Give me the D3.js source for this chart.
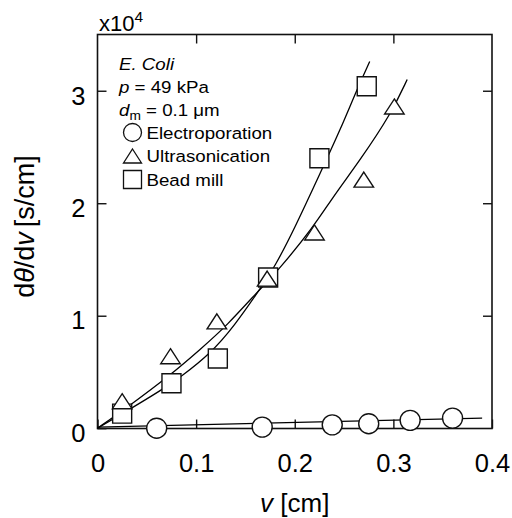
<!DOCTYPE html>
<html>
<head>
<meta charset="utf-8">
<script src="https://cdn.jsdelivr.net/npm/d3@7"></script>
<style>
  html, body { margin: 0; padding: 0; background: #fff; }
  svg { display: block; font-family: "Liberation Sans", Arial, sans-serif; }
</style>
</head>
<body>
<svg id="chart" width="512" height="518"></svg>
<script>
// ---- data ----
const seriesNames = ["Electroporation", "Ultrasonication", "Bead mill"];

const electroV = [0.060, 0.167, 0.238, 0.275, 0.317, 0.360];
const electroY = [0.00, 0.01, 0.03, 0.04, 0.07, 0.09];

const ultraV = [0.025, 0.074, 0.121, 0.172, 0.220, 0.270, 0.301];
const ultraY = [0.24, 0.64, 0.95, 1.33, 1.74, 2.21, 2.86];

const beadV = [0.025, 0.075, 0.122, 0.173, 0.225, 0.273];
const beadY = [0.13, 0.40, 0.62, 1.34, 2.40, 3.04];

// fitted lines
const electroFitV = [0, 0.39];
const electroFitY = [0.01, 0.09];
const ultraFitV = [0, 0.031, 0.075, 0.104, 0.131, 0.165, 0.183, 0.219, 0.239, 0.266, 0.298, 0.314];
const ultraFitY = [0, 0.19, 0.48, 0.70, 0.91, 1.24, 1.40, 1.79, 2.06, 2.38, 2.80, 3.10];
const beadFitV = [0, 0.031, 0.065, 0.085, 0.114, 0.138, 0.165, 0.180, 0.199, 0.227, 0.246, 0.263, 0.276];
const beadFitY = [0, 0.16, 0.34, 0.46, 0.66, 0.90, 1.24, 1.44, 1.76, 2.29, 2.65, 3.01, 3.26];

const xTicks = [0, 0.1, 0.2, 0.3, 0.4];
const yTicks = [0, 1, 2, 3];

// ---- layout ----
const svg = d3.select("#chart");
const pLeft = 97.5, pRight = 492, pTop = 34.5, pBottom = 428.5;
const x = d3.scaleLinear().domain([0, 0.4]).range([pLeft, pRight]);
const y = d3.scaleLinear().domain([0, 3.5]).range([428.2, 34.5]);
const tickLen = 9;

// axes
const gB = svg.append("g").attr("transform", `translate(0,${pBottom})`)
  .call(d3.axisBottom(x).tickValues(xTicks).tickSizeInner(-tickLen).tickSizeOuter(0).tickPadding(25)
    .tickFormat(d => d === 0 ? "0" : d3.format(".1f")(d)));
const gL = svg.append("g").attr("transform", `translate(${pLeft},0)`)
  .call(d3.axisLeft(y).tickValues(yTicks).tickSizeInner(-tickLen).tickSizeOuter(0).tickPadding(12)
    .tickFormat(d3.format("d")));
const gT = svg.append("g").attr("transform", `translate(0,${pTop})`)
  .call(d3.axisTop(x).tickValues(xTicks.slice(1, -1)).tickSizeInner(-tickLen).tickSizeOuter(0).tickFormat(""));
const gR = svg.append("g").attr("transform", `translate(${pRight},0)`)
  .call(d3.axisRight(y).tickValues(yTicks.slice(1)).tickSizeInner(-tickLen).tickSizeOuter(0).tickFormat(""));

[gB, gL, gT, gR].forEach(g => {
  g.select(".domain").remove();
  g.selectAll(".tick line").attr("stroke", "#111").attr("stroke-width", 1.4);
  g.selectAll("text").attr("font-size", 25.5).attr("fill", "#000")
    .attr("font-family", "'Liberation Sans', Arial, sans-serif");
});
gL.selectAll("text").attr("dy", "0.52em");

// frame
svg.append("rect").attr("x", pLeft).attr("y", pTop).attr("width", pRight - pLeft).attr("height", pBottom - pTop)
  .attr("fill", "none").attr("stroke", "#111").attr("stroke-width", 1.6);

// x10^4
const mult = svg.append("text").attr("x", 99).attr("y", 31).attr("font-size", 22).attr("fill", "#000");
mult.append("tspan").text("x10");
mult.append("tspan").attr("dy", -9).attr("font-size", 15.5).text("4");

// axis titles
const xl = svg.append("text").attr("x", (pLeft + pRight) / 2).attr("y", 511.5)
  .attr("text-anchor", "middle").attr("font-size", 26).attr("fill", "#000");
xl.append("tspan").attr("font-style", "italic").text("v");
xl.append("tspan").text(" [cm]");

const yl = svg.append("text").attr("transform", "translate(33.5,226.5) rotate(-90)")
  .attr("text-anchor", "middle").attr("font-size", 27).attr("fill", "#000");
yl.append("tspan").text("d");
yl.append("tspan").attr("font-style", "italic").text("θ");
yl.append("tspan").text("/d");
yl.append("tspan").attr("font-style", "italic").text("v");
yl.append("tspan").attr("dx", 5).text("[s/cm]");

// fit curves
const line = d3.line().x(d => x(d[0])).y(d => y(d[1])).curve(d3.curveBasis);
const fits = [
  d3.zip(electroFitV, electroFitY),
  d3.zip(ultraFitV, ultraFitY),
  d3.zip(beadFitV, beadFitY)
];
fits.forEach(pts => {
  svg.append("path").attr("d", line(pts)).attr("fill", "none")
    .attr("stroke", "#000").attr("stroke-width", 1.3);
});

// marker shapes
function triPath(w, h) { return `M0,${-h/2}L${w/2},${h/2}L${-w/2},${h/2}Z`; }
function sqPath(s) { return `M${-s/2},${-s/2}h${s}v${s}h${-s}Z`; }
function circPath(r) { return d3.symbol(d3.symbolCircle, Math.PI * r * r)(); }

const seriesData = [
  d3.zip(electroV, electroY),
  d3.zip(beadV, beadY),
  d3.zip(ultraV, ultraY)
];
const seriesMarker = [circPath(10), sqPath(19), triPath(19.5, 15)];
seriesData.forEach((pts, i) => {
  svg.append("g").selectAll("path").data(pts).join("path")
    .attr("transform", d => `translate(${x(d[0])},${y(d[1])})`)
    .attr("d", seriesMarker[i])
    .attr("fill", "#fff").attr("stroke", "#111").attr("stroke-width", 1.4);
});

// legend / annotation (text slightly stretched horizontally as in the reference)
const lg = svg.append("g").attr("font-size", 17).attr("fill", "#000");
function stretched(xp, yp) {
  return lg.append("text").attr("transform", `translate(${xp},${yp}) scale(1.1,1)`);
}
stretched(119, 70).attr("font-style", "italic").text("E. Coli");
const pT = stretched(119, 92.5);
pT.append("tspan").attr("font-style", "italic").text("p");
pT.append("tspan").text(" = 49 kPa");
const dT = stretched(119, 116);
dT.append("tspan").attr("font-style", "italic").text("d");
dT.append("tspan").attr("font-size", 12.5).attr("dy", 4).text("m");
dT.append("tspan").attr("dy", -4).text(" = 0.1 μm");

const legendMarkerSize = [circPath(9), triPath(18, 14), sqPath(18)];
seriesNames.forEach((name, i) => {
  const baseY = 138.5 + i * 23.5;
  lg.append("path").attr("transform", `translate(132.5,${baseY - 6})`)
    .attr("d", legendMarkerSize[i]).attr("fill", "#fff").attr("stroke", "#111").attr("stroke-width", 1.3);
  stretched(146.5, baseY).text(name);
});
</script>
</body>
</html>
